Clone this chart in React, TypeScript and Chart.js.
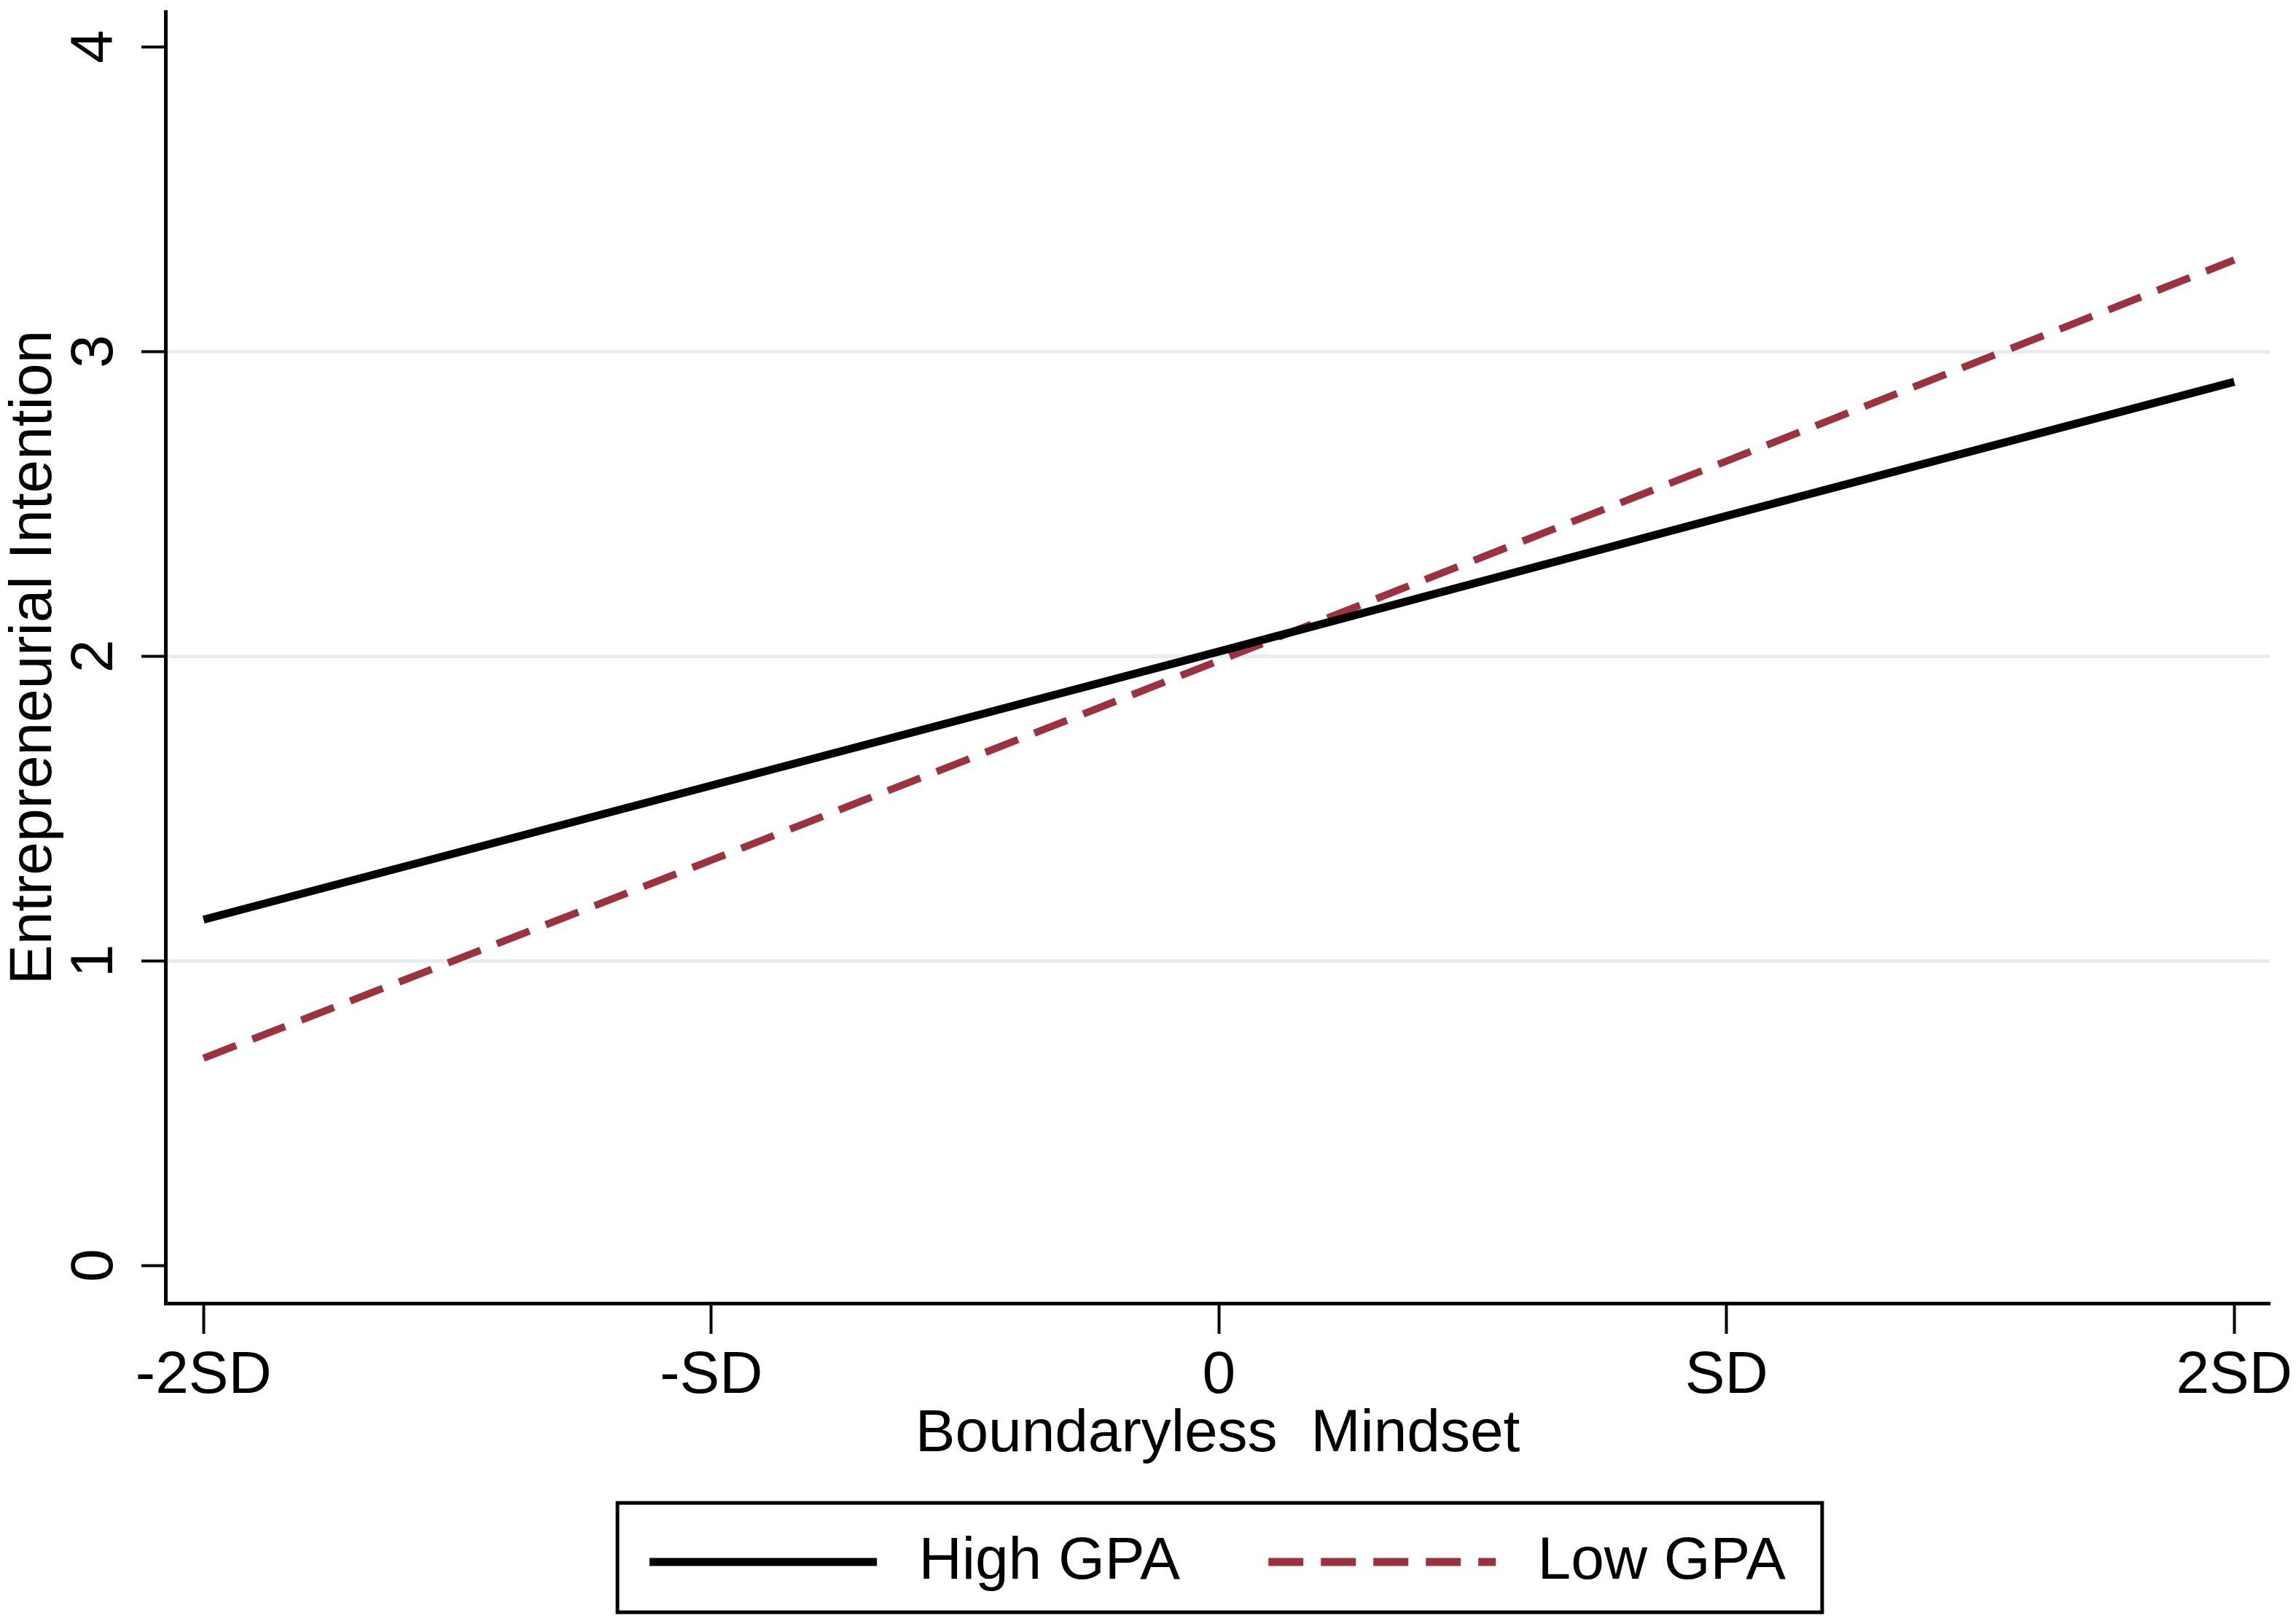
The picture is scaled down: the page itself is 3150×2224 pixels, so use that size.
import { useEffect, useRef } from "react";
import { Chart, registerables } from "chart.js";
import type { ChartConfiguration, Plugin } from "chart.js";

Chart.register(...registerables);

// tick positions and labels
const xTickValues = [-2, -1, 0, 1, 2];
const xTickLabels = ["-2SD", "-SD", "0", "SD", "2SD"];
const yTickValues = [0, 1, 2, 3, 4];
const yGridValues = [1, 2, 3];

// predicted Entrepreneurial Intention at each point of Boundaryless Mindset
const highGpa = [1.135, 1.575, 2.015, 2.46, 2.9];
const lowGpa = [0.68, 1.33, 1.985, 2.64, 3.3];

const seriesNames = ["High GPA", "Low GPA"];
const lowDash = [48, 24];

const FONT = "'Liberation Sans', Arial, Helvetica, sans-serif";
const MAROON = "#9c323d";

// frame around the legend items, like Stata's legend box
const legendFrame: Plugin = {
  id: "legendFrame",
  afterDraw(chart) {
    const legend: any = chart.legend;
    const boxes = legend?.legendHitBoxes;
    if (!boxes || !boxes.length) return;
    const first = boxes[0];
    const last = boxes[boxes.length - 1];
    const ctx = chart.ctx;
    const left = first.left - 44;
    const right = last.left + last.width + 50;
    ctx.save();
    ctx.strokeStyle = "#000";
    ctx.lineWidth = 5;
    ctx.strokeRect(left, legend.top - 10, right - left, 150);
    ctx.restore();
  },
};

export default function App() {
  const chartRef = useRef<HTMLCanvasElement>(null);
  const chartInstance = useRef<Chart | null>(null);

  useEffect(() => {
    if (!chartRef.current) return;
    if (chartInstance.current) chartInstance.current.destroy();

    const config: ChartConfiguration<"line"> = {
      type: "line",
      data: {
        datasets: [
          {
            label: seriesNames[0],
            data: xTickValues.map((x, i) => ({ x, y: highGpa[i] })),
            borderColor: "#000",
            backgroundColor: "#000",
            borderWidth: 11,
            pointRadius: 0,
            tension: 0,
            fill: false,
          },
          {
            label: seriesNames[1],
            data: xTickValues.map((x, i) => ({ x, y: lowGpa[i] })),
            borderColor: MAROON,
            backgroundColor: MAROON,
            borderWidth: 10,
            borderDash: lowDash,
            pointRadius: 0,
            tension: 0,
            fill: false,
          },
        ],
      },
      options: {
        responsive: false,
        animation: false,
        devicePixelRatio: 1,
        layout: { padding: { top: 16, right: 36, bottom: 30, left: 0 } },
        plugins: {
          legend: {
            position: "bottom",
            fullSize: false,
            labels: {
              usePointStyle: true,
              pointStyleWidth: 312,
              boxHeight: 82,
              padding: 30,
              color: "#000",
              font: { family: FONT, size: 82 },
              generateLabels(chart) {
                const items = Chart.defaults.plugins.legend.labels.generateLabels(chart);
                return items.map((it, i) => {
                  const ds: any = chart.data.datasets[i];
                  return {
                    ...it,
                    // thin space before the text, wider gap before the next key
                    text: "\u2009" + it.text + (i < items.length - 1 ? "    " : ""),
                    pointStyle: "line",
                    lineWidth: 11,
                    lineDash: ds.borderDash ?? [],
                    strokeStyle: ds.borderColor,
                    fillStyle: ds.borderColor,
                    fontColor: "#000",
                  };
                });
              },
            },
          },
          tooltip: { enabled: false },
        },
        scales: {
          x: {
            type: "linear",
            min: -2.075,
            max: 2.07,
            afterBuildTicks: (s: any) => {
              s.ticks = xTickValues.map((v) => ({ value: v }));
            },
            afterFit: (s: any) => {
              s.height = 284;
              s.paddingLeft = 0;
              s.paddingRight = 0;
            },
            ticks: {
              callback: (v) => xTickLabels[xTickValues.indexOf(Number(v))] ?? "",
              color: "#000",
              font: { family: FONT, size: 82 },
              padding: 9,
              maxRotation: 0,
              autoSkip: false,
            },
            grid: {
              drawOnChartArea: false,
              drawTicks: true,
              tickLength: 42,
              tickWidth: 4,
              tickColor: "#000",
            },
            border: { display: true, color: "#000", width: 5 },
            title: {
              display: true,
              text: "Boundaryless  Mindset",
              color: "#000",
              font: { family: FONT, size: 82 },
              padding: { top: 0, bottom: 54 },
            },
          },
          y: {
            type: "linear",
            min: -0.124,
            max: 4.115,
            afterBuildTicks: (s: any) => {
              s.ticks = yTickValues.map((v) => ({ value: v }));
            },
            afterFit: (s: any) => {
              s.width = 227;
              s.paddingTop = 0;
              s.paddingBottom = 0;
            },
            ticks: {
              callback: (v) => String(v),
              color: "#000",
              font: { family: FONT, size: 82 },
              padding: 40,
              minRotation: 90,
              maxRotation: 90,
              crossAlign: "center",
              autoSkip: false,
            },
            grid: {
              color: (ctx: any) =>
                ctx.tick && yGridValues.includes(ctx.tick.value) ? "#e6eded" : "rgba(0,0,0,0)",
              lineWidth: 5,
              drawTicks: true,
              tickLength: 33,
              tickWidth: 4,
              tickColor: "#000",
            },
            border: { display: true, color: "#000", width: 5 },
            title: {
              display: true,
              text: "Entrepreneurial Intention",
              color: "#000",
              font: { family: FONT, size: 82 },
              padding: { top: -2, bottom: 0 },
            },
          },
        },
      },
      plugins: [legendFrame],
    };

    chartInstance.current = new Chart(chartRef.current, config);

    return () => {
      if (chartInstance.current) {
        chartInstance.current.destroy();
        chartInstance.current = null;
      }
    };
  }, []);

  return (
    <div style={{ position: "absolute", left: 0, top: 0, width: 3150, height: 2224, background: "#fff" }}>
      <canvas ref={chartRef} width={3150} height={2224} />
    </div>
  );
}
